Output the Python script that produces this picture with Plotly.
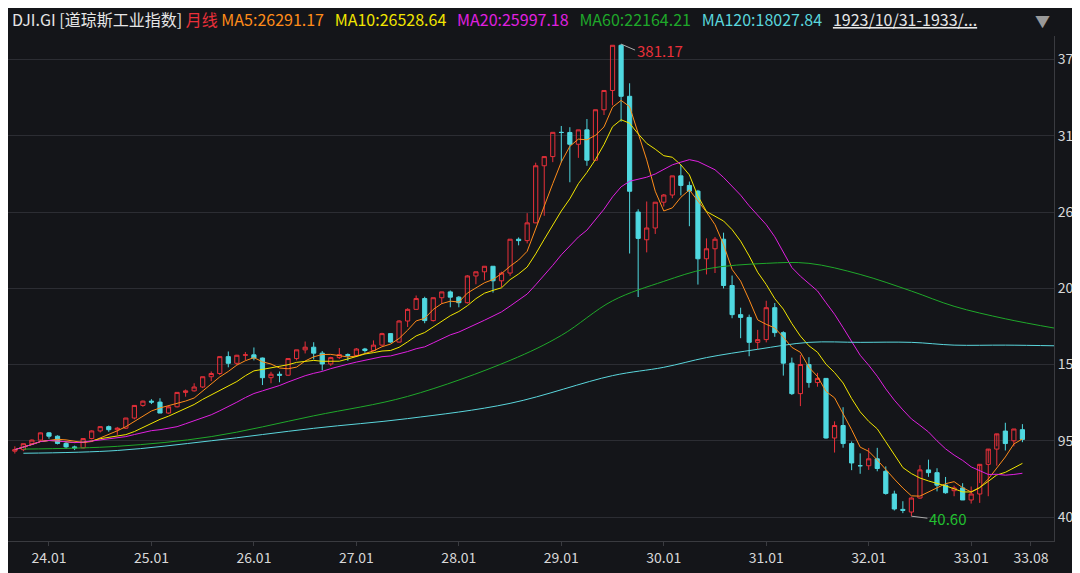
import pandas as pd
import plotly.graph_objects as go

# ── Data (monthly candles, positional index 0..119, last = 1933/08) ─────────
opens = [87.5, 88.6, 92.9, 95.5, 100.7, 98.3, 93.1, 90.6, 89.9, 96.6, 102.1, 105.2,
         103.0, 104.1, 111.4, 120.5, 123.6, 122.9, 115.0, 119.5, 129.9, 131.0, 133.8, 141.2,
         143.5, 155.7, 150.9, 156.7, 157.0, 154.7, 140.5, 143.0, 142.3, 154.3, 160.6, 162.5,
         158.2, 150.4, 155.0, 157.2, 156.6, 161.2, 160.1, 164.0, 172.3, 166.2, 181.4, 189.8,
         197.6, 181.7, 198.2, 202.4, 198.6, 194.6, 213.9, 216.9, 220.9, 210.4, 216.0, 240.4,
         239.4, 252.2, 293.4, 300.0, 317.5, 317.4, 308.9, 319.3, 297.4, 333.8, 347.7, 380.3,
         343.5, 260.0, 240.0, 248.5, 267.1, 272.3, 286.1, 279.2, 275.1, 226.3, 233.5, 240.4,
         207.0, 186.0, 184.0, 166.0, 168.0, 191.0, 173.0, 151.0, 129.0, 150.0, 137.0, 140.0,
         97.0, 106.0, 93.0, 77.0, 77.0, 82.0, 73.0, 56.6, 45.5, 43.6, 53.7, 74.0,
         72.0, 63.0, 59.0, 61.0, 52.3, 56.6, 78.0, 89.0, 102.0, 95.0, 103.0]
highs = [91.0, 93.0, 96.0, 101.0, 101.3, 98.9, 94.0, 91.5, 97.0, 102.5, 105.6, 106.0,
         105.0, 111.5, 120.5, 124.0, 125.0, 125.7, 120.0, 130.0, 132.0, 136.5, 141.2, 145.0,
         155.7, 159.4, 157.0, 159.0, 162.3, 155.0, 144.8, 145.0, 154.3, 160.6, 166.6, 166.1,
         159.7, 155.6, 161.9, 158.0, 161.9, 162.0, 167.4, 172.9, 172.5, 182.0, 190.6, 199.8,
         198.9, 198.2, 202.4, 203.4, 199.4, 214.5, 216.9, 220.9, 221.0, 217.0, 240.4, 241.7,
         259.2, 295.6, 300.0, 317.5, 322.1, 321.2, 319.3, 327.1, 333.8, 347.7, 380.3, 381.17,
         352.9, 262.0, 267.6, 267.1, 273.0, 286.1, 294.1, 282.0, 276.0, 241.0, 242.0, 245.1,
         214.2, 191.0, 186.0, 175.0, 196.0, 194.4, 174.0, 155.0, 156.9, 155.3, 144.0, 140.1,
         109.0, 119.2, 94.5, 85.9, 89.8, 89.9, 76.5, 59.0, 51.4, 54.3, 77.4, 81.4,
         75.2, 68.9, 62.6, 64.4, 62.0, 64.5, 79.0, 91.0, 108.0, 103.0, 107.0]
lows = [85.8, 87.5, 92.0, 94.8, 96.5, 92.4, 89.2, 88.3, 89.5, 96.0, 101.0, 101.5,
        99.2, 103.5, 110.5, 119.5, 121.5, 115.0, 114.5, 119.0, 126.8, 130.5, 133.0, 138.0,
        142.5, 148.0, 149.5, 153.2, 153.0, 135.2, 136.5, 137.2, 142.0, 153.0, 158.0, 153.7,
        145.7, 149.0, 154.0, 152.7, 155.5, 158.5, 159.5, 163.5, 165.7, 166.0, 177.1, 189.5,
        179.8, 181.0, 193.6, 191.3, 191.3, 194.0, 207.9, 210.8, 201.9, 205.9, 214.0, 236.0,
        237.4, 252.0, 257.3, 296.0, 295.9, 281.5, 299.1, 293.4, 297.0, 330.0, 337.0, 325.2,
        230.1, 198.7, 230.9, 244.2, 264.0, 270.0, 272.0, 249.8, 207.7, 215.0, 216.0, 204.9,
        183.4, 169.0, 156.0, 161.0, 166.0, 170.0, 142.0, 128.0, 120.0, 133.3, 134.0, 96.6,
        86.5, 90.0, 73.8, 71.2, 74.0, 73.0, 56.1, 44.7, 42.8, 40.6, 53.2, 69.0,
        58.5, 56.8, 55.0, 58.2, 49.7, 50.2, 55.0, 77.0, 88.0, 91.0, 94.0]
closes = [88.6, 92.9, 95.5, 100.7, 98.3, 93.1, 90.6, 89.9, 96.6, 102.1, 105.2, 103.0,
          104.1, 111.4, 120.5, 123.6, 122.9, 115.0, 119.5, 129.9, 131.0, 133.8, 141.2, 143.5,
          155.7, 150.9, 156.7, 157.0, 154.7, 140.5, 143.0, 142.3, 154.3, 160.6, 162.5, 158.2,
          150.4, 155.0, 157.2, 156.6, 161.2, 160.1, 164.0, 172.3, 166.2, 181.4, 189.8, 197.6,
          181.7, 198.2, 202.4, 198.6, 194.6, 213.9, 216.9, 220.9, 210.4, 216.0, 240.4, 239.4,
          252.2, 293.4, 300.0, 317.5, 317.4, 308.9, 319.3, 297.4, 333.8, 347.7, 380.3, 343.5,
          275.0, 241.0, 248.5, 267.1, 272.3, 286.1, 279.2, 275.1, 226.3, 233.5, 240.4, 207.0,
          186.0, 184.0, 166.0, 168.0, 191.0, 173.0, 151.0, 129.0, 150.0, 137.0, 140.0, 97.0,
          106.0, 93.0, 79.0, 77.0, 82.0, 75.0, 57.0, 45.8, 44.8, 53.7, 74.0, 72.0,
          63.0, 57.5, 61.0, 52.3, 56.6, 78.0, 89.0, 100.0, 93.0, 103.5, 96.0]

# long moving averages (index, value)
ma60_idx = [1, 12, 23, 35, 46, 58, 64, 70, 76, 81, 88, 93, 99, 105, 110, 116, 122]
ma60_val = [89, 91, 98, 113, 127, 153, 171, 196, 210, 219, 223, 223, 215, 203, 192, 183, 176]
ma120_idx = [1, 12, 23, 35, 46, 58, 70, 76, 81, 87, 93, 99, 105, 110, 116, 122]
ma120_val = [86, 88, 95, 104, 111, 122, 142, 148, 155, 161, 166, 166, 166, 164, 164, 163.5]

tick_idx = [4, 16, 28, 40, 52, 64, 76, 88, 100, 112, 119]
tick_txt = ["24.01", "25.01", "26.01", "27.01", "28.01", "29.01", "30.01",
            "31.01", "32.01", "33.01", "33.08"]
y_ticks = [40, 95, 150, 205, 260, 315, 370]

BG = "#141519"
RED = "#e8303a"
CYAN = "#4fd8e0"
GRID = "#2c2d33"
FONT = "Noto Sans CJK SC"

idx = list(range(len(closes)))
cs = pd.Series(closes)

fig = go.Figure()
fig.add_trace(go.Candlestick(
    x=idx, open=opens, high=highs, low=lows, close=closes,
    increasing=dict(line=dict(color=RED, width=1), fillcolor="rgba(0,0,0,0)"),
    decreasing=dict(line=dict(color=CYAN, width=1), fillcolor=CYAN),
    whiskerwidth=0, showlegend=False,
))

for w, col in [(5, "#ff8c1a"), (10, "#f2e600"), (20, "#e020e0")]:
    fig.add_trace(go.Scatter(x=idx, y=cs.rolling(w, min_periods=1).mean(), mode="lines",
                             line=dict(color=col, width=1), showlegend=False, hoverinfo="skip"))
fig.add_trace(go.Scatter(x=ma60_idx, y=ma60_val, mode="lines", line=dict(color="#1fa82a", width=1, shape="spline"),
                         showlegend=False, hoverinfo="skip"))
fig.add_trace(go.Scatter(x=ma120_idx, y=ma120_val, mode="lines", line=dict(color="#5ad6dc", width=1, shape="spline"),
                         showlegend=False, hoverinfo="skip"))

# high / low markers
hi_i = highs.index(max(highs))
lo_i = lows.index(min(lows))
fig.add_annotation(x=hi_i, y=max(highs), text=f"{max(highs):.2f}", showarrow=True, arrowhead=0,
                   arrowcolor="#aaaaaa", arrowwidth=1, ax=14, ay=6, xanchor="left",
                   font=dict(color=RED, size=15, family=FONT))
fig.add_annotation(x=lo_i, y=min(lows), text=f"{min(lows):.2f}", showarrow=True, arrowhead=0,
                   arrowcolor="#aaaaaa", arrowwidth=1, ax=16, ay=2, xanchor="left",
                   font=dict(color="#22c030", size=15, family=FONT))

header = ("<span style='color:#e6e6e6'>DJI.GI [道琼斯工业指数]</span> "
          "<span style='color:#e8303a'>月线</span> "
          "<span style='color:#ff8c1a'>MA5:26291.17</span>   "
          "<span style='color:#f2e600'>MA10:26528.64</span>   "
          "<span style='color:#e020e0'>MA20:25997.18</span>   "
          "<span style='color:#1fa82a'>MA60:22164.21</span>   "
          "<span style='color:#5ad6dc'>MA120:18027.84</span>   "
          "<span style='color:#e6e6e6'><u>1923/10/31-1933/...</u></span>")
fig.add_annotation(xref="paper", yref="paper", x=0.002, y=1.0, yanchor="bottom", xanchor="left",
                   yshift=3, text=header, showarrow=False, font=dict(size=16, family=FONT))
fig.add_annotation(xref="paper", yref="paper", x=1.0, y=1.0, yanchor="bottom", xanchor="right",
                   yshift=3, xshift=-2, text="▼", showarrow=False, font=dict(size=15, color="#999999"))

fig.update_layout(
    width=1080, height=573,
    paper_bgcolor=BG, plot_bgcolor=BG,
    margin=dict(l=0, r=34, t=28, b=40),
    font=dict(family=FONT, color="#d8d8d8"),
    xaxis=dict(range=[-0.8, 121.7], tickmode="array", tickvals=tick_idx, ticktext=tick_txt,
               showgrid=False, zeroline=False, rangeslider=dict(visible=False),
               showline=True, linecolor="#3a3b40", ticks="outside", ticklen=4, tickcolor="#3a3b40",
               tickfont=dict(size=14, color="#d8d8d8")),
    yaxis=dict(range=[22.7, 387], side="right", tickvals=y_ticks, showgrid=True, gridcolor=GRID,
               zeroline=False, tickfont=dict(size=14, color="#d8d8d8"), showline=True,
               linecolor="#3a3b40", automargin=False),
)

fig.write_html("out.html")
